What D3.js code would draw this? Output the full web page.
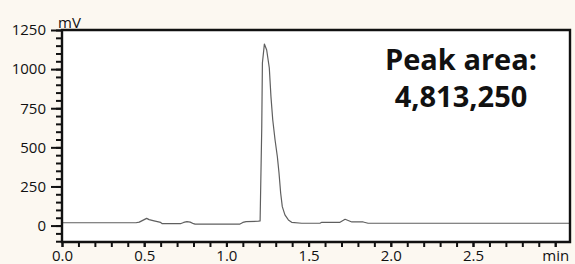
<!DOCTYPE html>
<html lang="en">
<head>
<meta charset="UTF-8" />
<title>Chromatogram</title>
<script src="https://d3js.org/d3.v7.min.js"></script>
<style>
  body { margin: 0; background: #fcf8f1; }
  svg { display: block; }
  .tick line { stroke: #111; stroke-width: 2px; }
</style>
</head>
<body>
<script>
// retention time (min) and detector signal (mV)
var times  = [0.00, 0.45, 0.47, 0.50, 0.515, 0.53, 0.56, 0.60, 0.61, 0.72, 0.74, 0.76, 0.78, 0.80, 0.81,
              1.08, 1.10, 1.12, 1.195, 1.205, 1.215, 1.219, 1.231, 1.245, 1.261, 1.271, 1.282, 1.296,
              1.310, 1.320, 1.330, 1.340, 1.356, 1.377, 1.397, 1.458, 1.569, 1.580, 1.691, 1.722,
              1.763, 1.832, 1.862, 3.09];
var signal = [18, 18, 22, 38, 46, 38, 30, 20, 12, 12, 20, 25, 22, 12, 9,
              9, 20, 25, 28, 30, 624, 1039, 1160, 1122, 1007, 824, 675, 547,
              440, 336, 208, 121, 68, 36, 21, 15, 15, 21, 21, 40,
              23, 23, 15, 15];

var xMajor = [0, 0.5, 1, 1.5, 2, 2.5, 3];
var xLabels = ["0.0", "0.5", "1.0", "1.5", "2.0", "2.5", "min"];
var yMajor = [0, 250, 500, 750, 1000, 1250];
var yUnit = "mV";
var peakText = ["Peak area:", "4,813,250"];

var W = 575, H = 264;
var mLeft = 62, mRight = 570, mTop = 30, mBottom = 242;

var x = d3.scaleLinear().domain([0, 3.09]).range([mLeft, mRight]);
var y = d3.scaleLinear().domain([-105, 1250]).range([mBottom, mTop]);

var svg = d3.select("body").append("svg").attr("width", W).attr("height", H);

// plot area
svg.append("rect").attr("x", mLeft).attr("y", mTop)
  .attr("width", mRight - mLeft).attr("height", mBottom - mTop).attr("fill", "#fff");

svg.append("clipPath").attr("id", "clip").append("rect")
  .attr("x", mLeft).attr("y", mTop).attr("width", mRight - mLeft).attr("height", mBottom - mTop);

var pts = times.map(function(t, i) { return [t, signal[i]]; });
var line = d3.line().x(function(d) { return x(d[0]); }).y(function(d) { return y(d[1]); });

svg.append("path").datum(pts)
  .attr("clip-path", "url(#clip)")
  .attr("d", line)
  .attr("fill", "none")
  .attr("stroke", "#5f5f5f")
  .attr("stroke-width", 1.2)
  .attr("stroke-linejoin", "round");

// y axis: minor then major
var yMinor = svg.append("g").attr("transform", "translate(" + mLeft + ",0)")
  .call(d3.axisLeft(y).tickValues(d3.range(-100, 1251, 50)).tickSize(6).tickFormat(""));
yMinor.select(".domain").remove();

var yAx = svg.append("g").attr("transform", "translate(" + mLeft + ",0)")
  .call(d3.axisLeft(y).tickValues(yMajor).tickSize(11).tickPadding(5).tickFormat(d3.format("d")));
yAx.select(".domain").remove();

// x axis
var xMinor = svg.append("g").attr("transform", "translate(0," + mBottom + ")")
  .call(d3.axisBottom(x).tickValues(d3.range(0, 31, 1).map(function(d) { return d / 10; })).tickSize(5).tickFormat(""));
xMinor.select(".domain").remove();

var xAx = svg.append("g").attr("transform", "translate(0," + mBottom + ")")
  .call(d3.axisBottom(x).tickValues(xMajor).tickSize(5).tickPadding(3)
    .tickFormat(function(d, i) { return xLabels[i]; }));
xAx.select(".domain").remove();

svg.selectAll(".tick text")
  .attr("font-family", "Open Sans, sans-serif")
  .attr("font-size", 15)
  .attr("fill", "#111");

// frame
svg.append("path")
  .attr("d", "M" + mLeft + "," + mTop + "H" + mRight + "V" + mBottom + "H" + mLeft + "Z")
  .attr("fill", "none").attr("stroke", "#111").attr("stroke-width", 2.4);

svg.append("text")
  .attr("x", mLeft - 4).attr("y", mTop - 2.5)
  .attr("font-family", "Open Sans, sans-serif").attr("font-size", 15).attr("fill", "#111")
  .text(yUnit);

var lbl = svg.append("text")
  .attr("text-anchor", "middle")
  .attr("font-family", "Open Sans, sans-serif")
  .attr("font-weight", "bold")
  .attr("font-size", 29)
  .attr("fill", "#111");
lbl.selectAll("tspan").data(peakText).enter().append("tspan")
  .attr("x", 461)
  .attr("y", function(d, i) { return 70 + i * 36.5; })
  .text(function(d) { return d; });
</script>
</body>
</html>
